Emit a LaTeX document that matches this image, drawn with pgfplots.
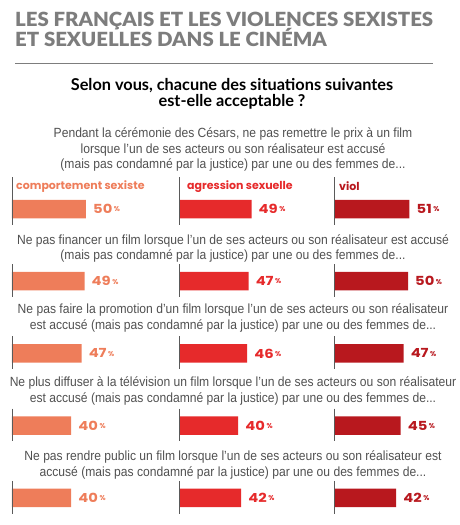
\documentclass[border=0pt]{standalone}
\usepackage{pgfplots}
\pgfplotsset{compat=1.18}
\usepackage{fontspec}
\setmainfont{Liberation Sans}
\newfontfamily\titlefont{Lato Black}
\newfontfamily\qfont[FakeStretch=0.91]{Liberation Sans}
\newfontfamily\subfont{Lato}
\newfontfamily\pop{Poppins}
\definecolor{cA}{RGB}{238,125,90}
\definecolor{cB}{RGB}{230,42,43}
\definecolor{cC}{RGB}{184,24,30}
\definecolor{tgray}{RGB}{125,125,125}
\definecolor{qgray}{RGB}{80,80,80}
\definecolor{lgray}{RGB}{90,90,90}
\pgfplotsset{
  col/.style={xbar, x=1.48pt, y=72.2pt, y dir=reverse,
    xmin=0, xmax=60, ymin=-0.5, ymax=4.5, hide axis, clip=false,
    anchor=north west, bar width=18.5pt,
    /pgf/number format/assume math mode=true,
    nodes near coords={\scalebox{1.18}[1]{\pgfmathprintnumber{\pgfplotspointmeta}}\kern1.5pt\raisebox{1.8pt}{\fontsize{7}{7}\selectfont\%}},
    every node near coord/.append style={text=#1, inner sep=0pt, xshift=7pt,
      font=\pop\bfseries\fontsize{12.5}{13}\selectfont}},
}
\newcommand\vlines{%
  \draw[lgray, line width=0.9pt] (axis cs:0,-0.44) -- (axis cs:0,0.22);
  \draw[lgray, line width=0.9pt] (axis cs:0,0.765) -- (axis cs:0,1.22);
  \draw[lgray, line width=0.9pt] (axis cs:0,1.765) -- (axis cs:0,2.22);
  \draw[lgray, line width=0.9pt] (axis cs:0,2.765) -- (axis cs:0,3.22);
  \draw[lgray, line width=0.9pt] (axis cs:0,3.765) -- (axis cs:0,4.22);
}
\newcommand\q[2]{\node[anchor=base, inner sep=0pt, text=qgray, font=\qfont\fontsize{13.3}{15}\selectfont] at (233pt,-#1pt) {#2};}
\newcommand\lab{\pop\bfseries\fontsize{11}{12}\selectfont}
\newcommand\tf{\titlefont\fontsize{19.5}{20}\selectfont}
\newlength\tlen
\begin{document}%
\settowidth\tlen{\tf LES FRANÇAIS ET LES VIOLENCES SEXISTES}%
\pgfmathsetmacro\tsx{418/\tlen}%
\begin{tikzpicture}
\useasboundingbox (0pt,0pt) rectangle (460pt,-525pt);
\node[anchor=base west, inner sep=0pt, text=tgray, font=\tf] at (15pt,-26.7pt) {\scalebox{\tsx}[1]{LES FRANÇAIS ET LES VIOLENCES SEXISTES}};
\node[anchor=base west, inner sep=0pt, text=tgray, font=\tf] at (15pt,-46.7pt) {\scalebox{\tsx}[1]{ET SEXUELLES DANS LE CINÉMA}};
\draw[tgray, line width=0.8pt] (15pt,-63pt) -- (433pt,-63pt);
\node[anchor=base, inner sep=0pt, font=\subfont\bfseries\fontsize{16.3}{18}\selectfont] at (232pt,-90pt) {Selon vous, chacune des situations suivantes};
\node[anchor=base, inner sep=0pt, font=\subfont\bfseries\fontsize{16.3}{18}\selectfont] at (232pt,-106pt) {est-elle acceptable~?};
\q{137.2}{Pendant la cérémonie des Césars, ne pas remettre le prix à un film}
\q{153}{lorsque l’un de ses acteurs ou son réalisateur est accusé}
\q{168.7}{(mais pas condamné par la justice) par une ou des femmes de...}
\q{244}{Ne pas financer un film lorsque l’un de ses acteurs ou son réalisateur est accusé}
\q{259.5}{(mais pas condamné par la justice) par une ou des femmes de...}
\q{313.5}{Ne pas faire la promotion d’un film lorsque l’un de ses acteurs ou son réalisateur}
\q{329}{est accusé (mais pas condamné par la justice) par une ou des femmes de...}
\q{386.5}{Ne plus diffuser à la télévision un film lorsque l’un de ses acteurs ou son réalisateur}
\q{402}{est accusé (mais pas condamné par la justice) par une ou des femmes de...}
\q{460.5}{Ne pas rendre public un film lorsque l’un de ses acteurs ou son réalisateur est}
\q{476}{accusé (mais pas condamné par la justice) par une ou des femmes de...}

\begin{axis}[col=cA, at={(12pt,-172.9pt)}]
\addplot[fill=cA, draw=none] coordinates {(50,0) (49,1) (47,2) (40,3) (40,4)};
\vlines
\node[anchor=west, inner sep=0pt, xshift=4pt, text=cA, font=\lab] at (axis cs:0,-0.31) {comportement sexiste};
\end{axis}
\begin{axis}[col=cB, at={(179pt,-172.9pt)}]
\addplot[fill=cB, draw=none] coordinates {(49,0) (47,1) (46,2) (40,3) (42,4)};
\vlines
\node[anchor=west, inner sep=0pt, xshift=8pt, text=cB, font=\lab] at (axis cs:0,-0.31) {agression sexuelle};
\end{axis}
\begin{axis}[col=cC, at={(334pt,-172.9pt)}]
\addplot[fill=cC, draw=none] coordinates {(51,0) (50,1) (47,2) (45,3) (42,4)};
\vlines
\node[anchor=west, inner sep=0pt, xshift=5pt, text=cC, font=\lab] at (axis cs:0,-0.31) {viol};
\end{axis}
\end{tikzpicture}%
\end{document}
